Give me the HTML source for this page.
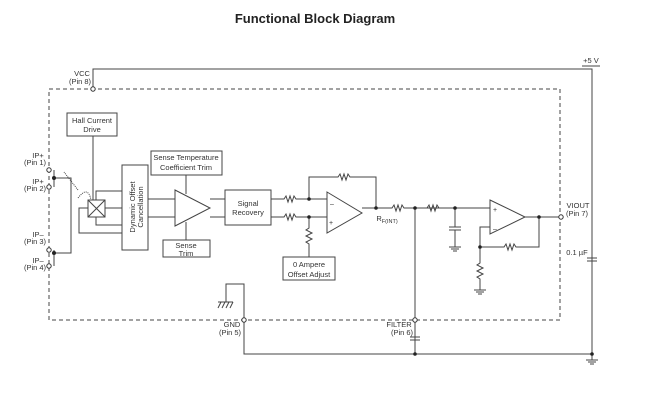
<!DOCTYPE html>
<html><head><meta charset="utf-8"><style>
html,body{margin:0;padding:0;background:#fff;}
svg{display:block;font-family:"Liberation Sans",sans-serif;}
</style></head><body>
<svg width="660" height="401" viewBox="0 0 660 401" xmlns="http://www.w3.org/2000/svg">
<text x="315" y="23" text-anchor="middle" font-size="13" font-weight="bold" fill="#222">Functional Block Diagram</text>
<g stroke="#444" stroke-width="1" fill="none">
<rect x="49" y="89" width="511" height="231" stroke-dasharray="4,3"/>
<polyline points="93,89 93,69 592,69 592,354"/>
<line x1="582" y1="66" x2="600" y2="66"/>
<rect x="67" y="113" width="50" height="23"/>
<line x1="93" y1="136" x2="93" y2="200"/>
<rect x="88" y="200" width="17" height="17"/>
<line x1="88" y1="200" x2="105" y2="217"/><line x1="105" y1="200" x2="88" y2="217"/>
<rect x="122" y="165" width="26" height="85"/>
<polyline points="96,200 96,191 122,191"/>
<line x1="105" y1="208" x2="122" y2="208"/>
<polyline points="96,217 96,225 122,225"/>
<polyline points="88,208 79,208 79,233 122,233"/>
<path d="M78,198 Q88,185 91,200" stroke-dasharray="1,1"/>
<line x1="78" y1="190" x2="64" y2="172" stroke-dasharray="1,1"/>
<line x1="148" y1="199" x2="175" y2="199"/><line x1="148" y1="217" x2="175" y2="217"/>
<polygon points="175,190 210,208 175,226"/>
<line x1="210" y1="199" x2="225" y2="199"/><line x1="210" y1="217" x2="225" y2="217"/>
<rect x="151" y="151" width="71" height="24"/>
<line x1="186" y1="175" x2="186" y2="194"/>
<rect x="163" y="240" width="47" height="17"/>
<line x1="186" y1="222" x2="186" y2="240"/>
<rect x="225" y="190" width="46" height="35"/>
<polyline points="271,199 284,199 286,196 288,202 290,196 292,202 294,196 296,199 327,199"/>
<polyline points="271,217 284,217 286,214 288,220 290,214 292,220 294,214 296,217 327,217"/>
<polyline points="309,199 309,177 338,177 340,174 342,180 344,174 346,180 348,174 350,177 376,177 376,208"/>
<polygon points="327,192 362,213 327,233"/>
<polyline points="309,217 309,228 306,230 312,233 306,236 312,239 306,242 309,244 309,257"/>
<rect x="283" y="257" width="52" height="23"/>
<polyline points="362,208 392,208 394,205 396,211 398,205 400,211 402,205 404,208 445,208"/>
<polyline points="427,208 429,205 431,211 433,205 435,211 437,205 439,208"/>
<line x1="415" y1="208" x2="415" y2="354"/>
<line x1="439" y1="208" x2="490" y2="208"/>
<line x1="455" y1="208" x2="455" y2="227"/>
<line x1="449" y1="227" x2="461" y2="227"/><line x1="449" y1="230" x2="461" y2="230"/>
<line x1="455" y1="230" x2="455" y2="247"/>
<line x1="449" y1="247" x2="461" y2="247"/><line x1="451" y1="249" x2="459" y2="249"/><line x1="453" y1="251" x2="457" y2="251"/>
<polygon points="490,200 525,217 490,234"/>
<polyline points="525,217 560,217"/>
<polyline points="490,227 480,227 480,247 504,247 506,244 508,250 510,244 512,250 514,244 516,247 539,247 539,217"/>
<polyline points="480,247 480,263 477,265 483,268 477,271 483,274 477,277 480,279 480,290"/>
<line x1="474" y1="290" x2="486" y2="290"/><line x1="476" y1="292" x2="484" y2="292"/><line x1="478" y1="294" x2="482" y2="294"/>
<polyline points="244,320 244,284 226,284 226,302"/>
<line x1="218" y1="302" x2="233" y2="302"/>
<line x1="221" y1="302" x2="218" y2="308"/><line x1="225" y1="302" x2="222" y2="308"/><line x1="229" y1="302" x2="226" y2="308"/><line x1="233" y1="302" x2="230" y2="308"/>
<polyline points="244,320 244,354 592,354"/>
<line x1="410" y1="337" x2="420" y2="337"/><line x1="410" y1="340" x2="420" y2="340"/>
<line x1="587" y1="258" x2="597" y2="258"/><line x1="587" y1="261" x2="597" y2="261"/>
<line x1="586" y1="360" x2="598" y2="360"/><line x1="588" y1="362" x2="596" y2="362"/><line x1="590" y1="364" x2="594" y2="364"/>
<line x1="592" y1="354" x2="592" y2="360"/>
<polyline points="54,170 54,187"/><polyline points="54,178 71,178 71,253 54,253"/><polyline points="54,250 54,266"/>
</g>
<g fill="#222">
<circle cx="54" cy="178" r="2"/><circle cx="54" cy="253" r="2"/>
<circle cx="309" cy="199" r="1.8"/><circle cx="309" cy="217" r="1.8"/><circle cx="376" cy="208" r="1.8"/>
<circle cx="415" cy="208" r="1.8"/><circle cx="455" cy="208" r="1.8"/><circle cx="539" cy="217" r="1.8"/><circle cx="480" cy="247" r="1.8"/>
<circle cx="415" cy="354" r="1.8"/><circle cx="592" cy="354" r="1.8"/>
</g>
<g fill="#fff" stroke="#333" stroke-width="1">
<circle cx="93" cy="89" r="2.2"/><circle cx="49" cy="170" r="2.2"/><circle cx="49" cy="187" r="2.2"/><circle cx="49" cy="250" r="2.2"/><circle cx="49" cy="266" r="2.2"/>
<circle cx="244" cy="320" r="2.2"/><circle cx="415" cy="320" r="2.2"/><circle cx="561" cy="217" r="2.2"/>
</g>
<g font-size="7.5" fill="#333" text-anchor="middle">
<text x="82" y="76">VCC</text><text x="80" y="84">(Pin 8)</text>
<text x="591" y="63">+5 V</text>
<text x="92" y="123">Hall Current</text><text x="92" y="132">Drive</text>
<text x="186" y="160">Sense Temperature</text><text x="186" y="170">Coefficient Trim</text>
<text x="186" y="248">Sense</text><text x="186" y="256">Trim</text>
<text x="248" y="206">Signal</text><text x="248" y="215">Recovery</text>
<text x="309" y="267">0 Ampere</text><text x="309" y="277">Offset Adjust</text>
<text x="38" y="158">IP+</text><text x="35" y="165">(Pin 1)</text>
<text x="38" y="184">IP+</text><text x="35" y="191">(Pin 2)</text>
<text x="38" y="237">IP–</text><text x="35" y="244">(Pin 3)</text>
<text x="38" y="263">IP–</text><text x="35" y="270">(Pin 4)</text>
<text x="232" y="327">GND</text><text x="230" y="335">(Pin 5)</text>
<text x="399" y="327">FILTER</text><text x="402" y="335">(Pin 6)</text>
<text x="578" y="208">VIOUT</text><text x="577" y="216">(Pin 7)</text>
<text x="577" y="255">0.1 µF</text>
<text x="387" y="221">R<tspan font-size="5.5" dy="2">F(INT)</tspan></text>
<text transform="translate(137,207) rotate(-90)" y="-2">Dynamic Offset</text>
<text transform="translate(137,207) rotate(-90)" y="6">Cancellation</text>
</g>
<g font-size="7" fill="#333">
<text x="330" y="206">–</text><text x="329" y="225">+</text>
<text x="493" y="212">+</text><text x="493" y="231">–</text>
</g>
</svg>
</body></html>
